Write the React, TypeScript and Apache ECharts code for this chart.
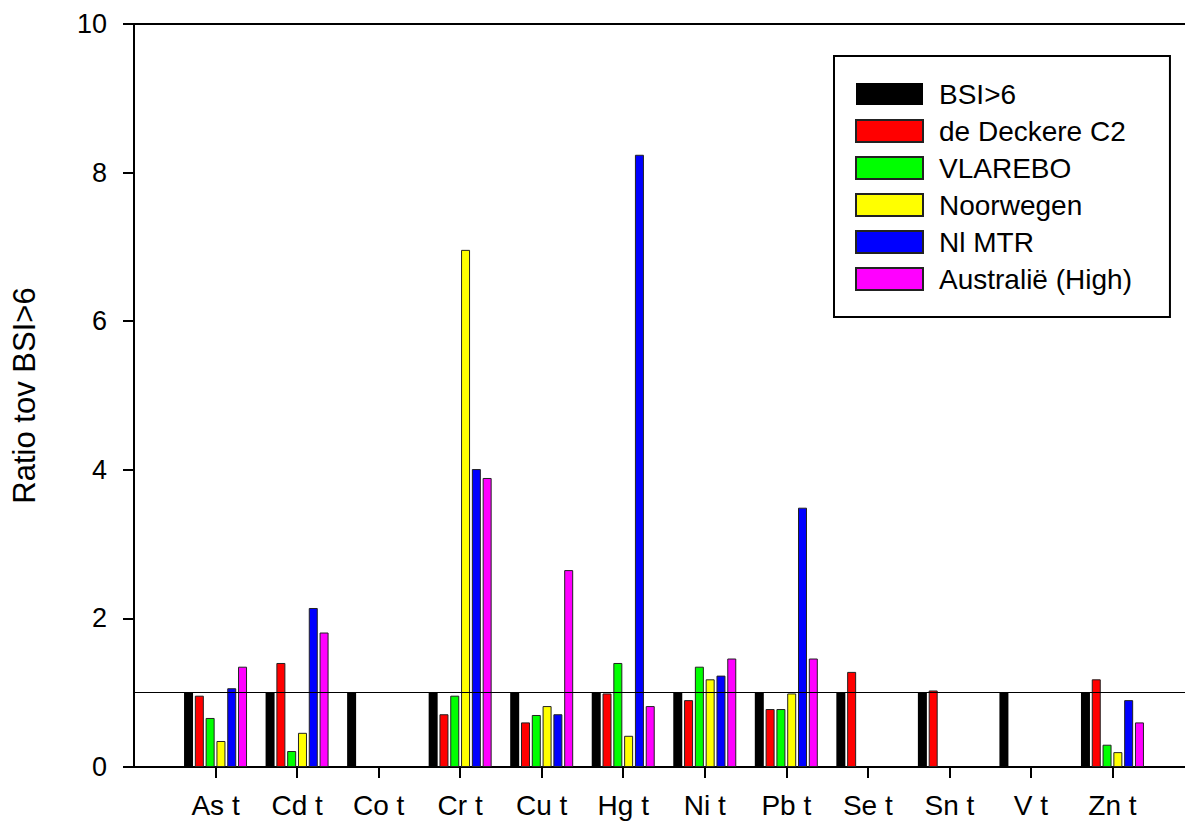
import React, { useEffect, useRef } from "react";
import * as echarts from "echarts";

const categories = ["As t", "Cd t", "Co t", "Cr t", "Cu t", "Hg t", "Ni t", "Pb t", "Se t", "Sn t", "V t", "Zn t"];
const seriesNames = ["BSI>6", "de Deckere C2", "VLAREBO", "Noorwegen", "Nl MTR", "Australië (High)"];
const bsi = [1, 1, 1, 1, 1, 1, 1, 1, 1, 1, 1, 1];
const deDeckere = [0.96, 1.4, null, 0.71, 0.6, 0.99, 0.9, 0.78, 1.28, 1.03, null, 1.18];
const vlarebo = [0.66, 0.215, null, 0.96, 0.7, 1.4, 1.35, 0.78, null, null, null, 0.3];
const noorwegen = [0.35, 0.46, null, 6.96, 0.82, 0.42, 1.18, 0.99, null, null, null, 0.2];
const nlMtr = [1.06, 2.14, null, 4.01, 0.71, 8.24, 1.23, 3.49, null, null, null, 0.9];
const australie = [1.35, 1.81, null, 3.89, 2.65, 0.82, 1.46, 1.46, null, null, null, 0.6];
const yTicks = [0, 2, 4, 6, 8, 10];
const referenceValue = 1;

const colors = ["#000000", "#ff0000", "#00ff00", "#ffff00", "#0000ff", "#ff00ff"];
const FONT = "'Liberation Sans', Arial, sans-serif";

export default function App() {
  const ref = useRef<HTMLDivElement>(null);
  useEffect(() => {
    if (!ref.current) return;
    const chart = echarts.init(ref.current, undefined, { renderer: "svg" });
    const all = [bsi, deDeckere, vlarebo, noorwegen, nlMtr, australie];
    const positions = categories.map((_, i) => i + 1);
    const series: any[] = all.map((vals, si) => ({
      name: seriesNames[si],
      type: "bar",
      barWidth: 9,
      barGap: "20%",
      data: vals.map((v, i) => [positions[i], v === null ? "-" : v]),
      itemStyle: {
        color: colors[si],
        borderColor: si === 0 ? "#000000" : "#222222",
        borderWidth: si === 0 ? 0 : 1,
      },
      ...(si === 0
        ? {
            markLine: {
              silent: true,
              symbol: "none",
              label: { show: false },
              lineStyle: { color: "#000", width: 1, type: "solid" },
              data: [{ yAxis: referenceValue }],
            },
          }
        : {}),
    }));
    chart.setOption({
      animation: false,
      textStyle: { fontFamily: FONT },
      grid: {
        left: 134,
        top: 24,
        bottom: 58,
        right: -9,
        show: true,
        borderColor: "#000",
        borderWidth: 2,
        outerBoundsMode: "none",
        containLabel: false,
      },
      legend: {
        orient: "vertical",
        left: 834,
        top: 56,
        padding: [24, 38, 24, 21],
        borderColor: "#000",
        borderWidth: 2,
        itemWidth: 67,
        itemHeight: 22,
        itemGap: 9,
        icon: "rect",
        data: seriesNames,
        textStyle: {
          fontFamily: FONT,
          fontSize: 28,
          color: "#000",
          padding: [0, 0, 0, 11],
        },
      },
      xAxis: {
        type: "value",
        min: 0,
        max: 13,
        interval: 1,
        splitLine: { show: false },
        axisLine: { show: true, lineStyle: { color: "#000", width: 2 } },
        axisTick: {
          show: true,
          length: 11,
          inside: false,
          lineStyle: { color: "#000", width: 2 },
          customValues: positions,
        },
        axisLabel: {
          show: true,
          customValues: positions,
          margin: 24,
          fontSize: 28,
          color: "#000",
          fontFamily: FONT,
          formatter: (v: number) => categories[Math.round(v) - 1] ?? "",
        },
      },
      yAxis: {
        type: "value",
        min: 0,
        max: 10,
        interval: 2,
        name: "Ratio tov BSI>6",
        nameLocation: "middle",
        nameGap: 94,
        nameTextStyle: { fontSize: 31, color: "#000", fontFamily: FONT },
        splitLine: { show: false },
        axisLine: { show: true, lineStyle: { color: "#000", width: 2 } },
        axisTick: { show: true, length: 11, inside: false, lineStyle: { color: "#000", width: 2 } },
        axisLabel: {
          margin: 27,
          fontSize: 27,
          color: "#000",
          fontFamily: FONT,
          customValues: yTicks,
        },
      },
      series,
    });
    return () => chart.dispose();
  }, []);
  return <div ref={ref} style={{ width: 1185, height: 825, position: "absolute", left: 0, top: 0 }} />;
}
